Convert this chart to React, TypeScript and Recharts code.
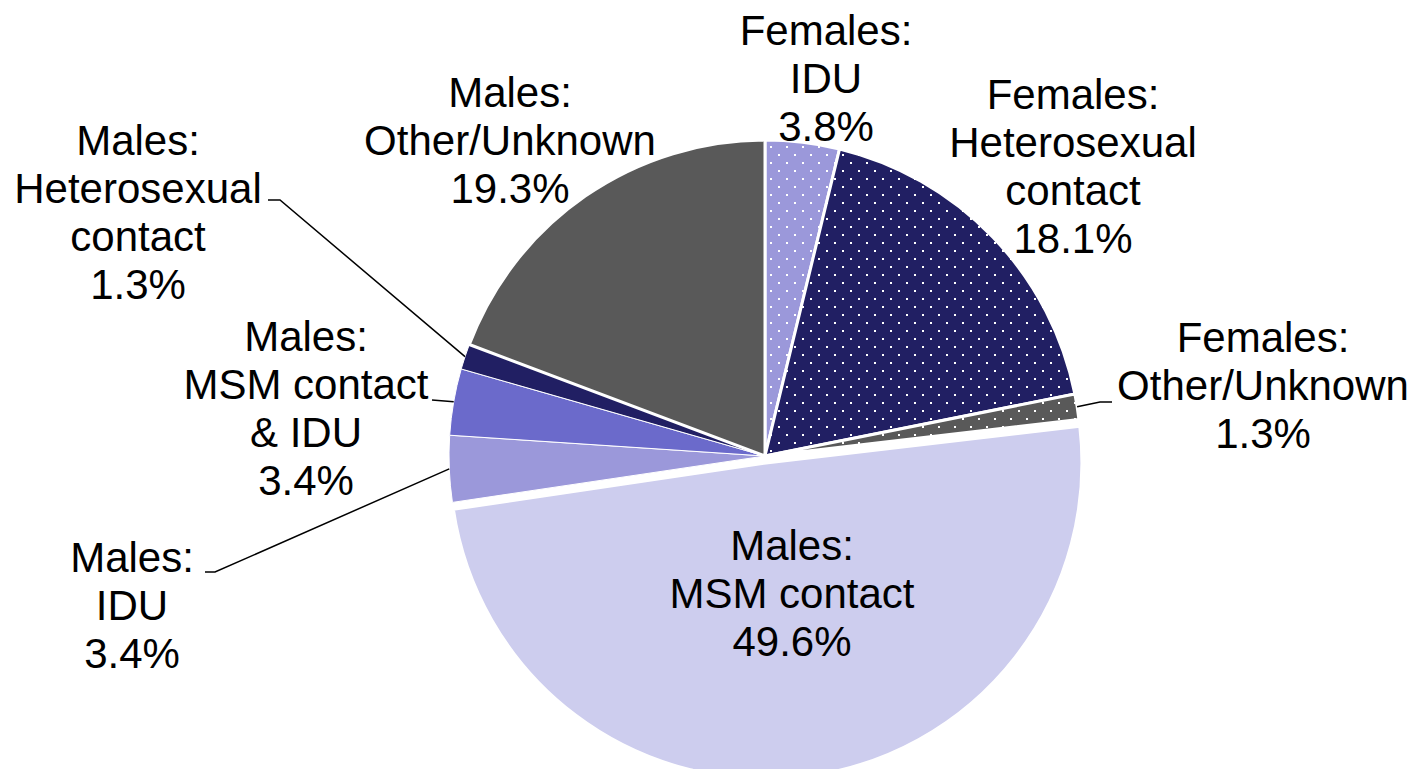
import { Cell, Pie, PieChart } from "recharts";

const categories = [
  ["Females:", "IDU"],
  ["Females:", "Heterosexual", "contact"],
  ["Females:", "Other/Unknown"],
  ["Males:", "MSM contact"],
  ["Males:", "IDU"],
  ["Males:", "MSM contact", "& IDU"],
  ["Males:", "Heterosexual", "contact"],
  ["Males:", "Other/Unknown"],
];
const shares = [3.8, 18.1, 1.3, 49.6, 3.4, 3.4, 1.3, 19.3];
const fills = [
  "url(#dotsLight)",
  "url(#dotsNavy)",
  "url(#dotsGray)",
  "#cdcdee",
  "#9b98da",
  "#6b6acb",
  "#211f63",
  "#595959",
];
const EXPLODED = 3;

const CX = 765;
const CY = 456;
const R = 316;
const RAD = Math.PI / 180;

// label block centre + optional leader elbow/end, relative to pie centre
const labelPos: { dx: number; dy: number; leader?: number[][] }[] = [
  { dx: 61, dy: -378 },
  { dx: 308, dy: -290 },
  { dx: 498, dy: -71, leader: [[335, -54], [347, -54]] },
  { dx: 27, dy: 137 },
  { dx: -633, dy: 149, leader: [[-550, 116], [-560, 116]] },
  { dx: -459, dy: -48, leader: [[-333, -56]] },
  { dx: -627, dy: -244, leader: [[-485, -256], [-497, -256]] },
  { dx: -255, dy: -316 },
];

const data = categories.map((c, i) => ({ name: c.join(" "), value: shares[i] }));

const total = shares.reduce((a, b) => a + b, 0);
const before = shares.slice(0, EXPLODED).reduce((a, b) => a + b, 0);
const theta = ((before + shares[EXPLODED] / 2) / total) * 360 * RAD;
const offX = Math.sin(theta) * 7;
const offY = -Math.cos(theta) * 7;

const renderLabel = (props: any) => {
  const { midAngle, index } = props;
  const pos = labelPos[index];
  const lines = [...categories[index], `${shares[index].toFixed(1)}%`];
  const lh = 48;
  const x = CX + pos.dx;
  const y0 = CY + pos.dy - ((lines.length - 1) * lh) / 2;
  let path = null;
  if (pos.leader) {
    const sx = CX + R * Math.cos(-midAngle * RAD);
    const sy = CY + R * Math.sin(-midAngle * RAD);
    const pts = [[sx, sy], ...pos.leader.map(([a, b]) => [CX + a, CY + b])];
    path = (
      <polyline
        points={pts.map((p) => p.join(",")).join(" ")}
        fill="none"
        stroke="#000"
        strokeWidth={1.5}
      />
    );
  }
  return (
    <g key={`lbl-${index}`}>
      {path}
      <text
        x={x}
        y={y0}
        textAnchor="middle"
        dominantBaseline="central"
        fontFamily="'Liberation Sans', Arial, sans-serif"
        fontSize={42}
        fill="#000"
      >
        {lines.map((l, i) => (
          <tspan key={i} x={x} y={y0 + i * lh}>
            {l}
          </tspan>
        ))}
      </text>
    </g>
  );
};

function Dots({ id, color }: { id: string; color: string }) {
  return (
    <pattern id={id} width={16} height={16} patternUnits="userSpaceOnUse">
      <rect width={16} height={16} fill={color} />
      <rect x={2} y={2} width={2} height={2} fill="#fff" />
      <rect x={10} y={10} width={2} height={2} fill="#fff" />
    </pattern>
  );
}

export default function App() {
  return (
    <div style={{ position: "absolute", left: 0, top: 0 }}>
      <svg width={0} height={0} style={{ position: "absolute" }}>
        <defs>
          <Dots id="dotsLight" color="#9b98da" />
          <Dots id="dotsNavy" color="#211f63" />
          <Dots id="dotsGray" color="#595959" />
        </defs>
      </svg>
      <PieChart width={1415} height={769} margin={{ top: 0, right: 0, bottom: 0, left: 0 }}>
        <Pie
          data={data}
          dataKey="value"
          cx={CX + offX}
          cy={CY + offY}
          outerRadius={R}
          startAngle={90}
          endAngle={-270}
          isAnimationActive={false}
        >
          {data.map((_, i) => (
            <Cell
              key={i}
              fill={i === EXPLODED ? fills[i] : "none"}
              stroke={i === EXPLODED ? "#fff" : "none"}
              strokeWidth={3}
            />
          ))}
        </Pie>
        <Pie
          data={data}
          dataKey="value"
          cx={CX}
          cy={CY}
          outerRadius={R}
          startAngle={90}
          endAngle={-270}
          isAnimationActive={false}
          labelLine={false}
          label={renderLabel}
        >
          {data.map((_, i) => (
            <Cell
              key={i}
              fill={i === EXPLODED ? "none" : fills[i]}
              stroke={i === EXPLODED ? "none" : "#fff"}
              strokeWidth={i >= 4 && i <= 6 ? 1 : 3}
            />
          ))}
        </Pie>
      </PieChart>
    </div>
  );
}
